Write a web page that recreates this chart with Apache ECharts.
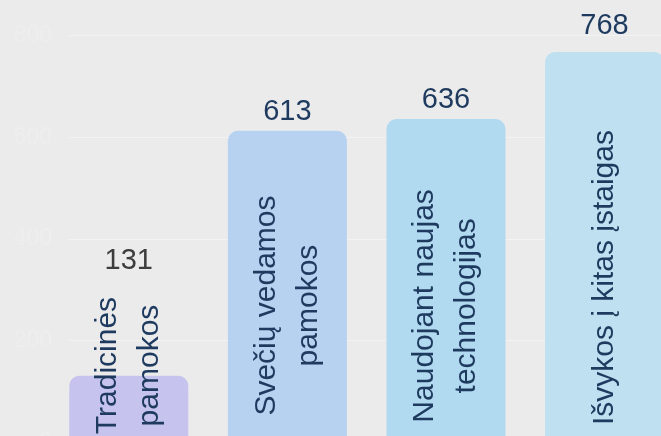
<!DOCTYPE html>
<html>
<head>
<meta charset="utf-8">
<script src="https://cdn.jsdelivr.net/npm/echarts@6/dist/echarts.min.js"></script>
<style>
html,body{margin:0;padding:0;background:#ebebeb;overflow:hidden;}
#chart{width:661px;height:460px;}
</style>
</head>
<body>
<div id="chart"></div>
<script>
// ---- data ----
const categories = ['Tradicinės\npamokos', 'Svečių vedamos\npamokos', 'Naudojant naujas\ntechnologijas', 'Išvykos į kitas įstaigas'];
const values = [131, 613, 636, 768];
const yTicks = [0, 200, 400, 600, 800];

// ---- styles (kept separate from data) ----
const barColors = ['#c6c3ee', '#b7d1f0', '#b1d9ef', '#bfe0f1'];
const valueLabelColors = ['#3d3d3d', '#1e3a5f', '#1e3a5f', '#1e3a5f'];
const catLabelPos = ['-15.3%', '56.1%', '57.8%', '57.8%'];
const valueLabelDist = [100.5, 4.5, 5, 11];

const FONT = '"Liberation Sans", Arial, sans-serif';

const barData = values.map((v, i) => ({
  value: [i, v],
  itemStyle: { color: barColors[i], borderRadius: [10, 10, 0, 0] },
  label: { position: ['50%', catLabelPos[i]] }
}));
const valData = values.map((v, i) => ({
  value: [i, v],
  label: { distance: valueLabelDist[i], color: valueLabelColors[i] }
}));

const chart = echarts.init(document.getElementById('chart'), null, { renderer: 'canvas' });
chart.setOption({
  backgroundColor: '#ebebeb',
  animation: false,
  grid: { left: 69, right: 0, top: 35.7, bottom: 17.7, containLabel: false },
  xAxis: {
    type: 'value', min: -0.377, max: 3.356,
    show: false, splitLine: { show: false }
  },
  yAxis: {
    type: 'value', min: yTicks[0], max: yTicks[yTicks.length - 1], interval: 200,
    axisLine: { show: false }, axisTick: { show: false },
    splitLine: { lineStyle: { color: '#f3f3f3', width: 1 } },
    axisLabel: { color: '#eeeeee', fontSize: 23, fontFamily: FONT, margin: 17 }
  },
  series: [
    {
      type: 'bar', barWidth: 119, barGap: '-100%',
      data: barData,
      label: {
        show: true, rotate: 90,
        formatter: p => categories[p.dataIndex],
        fontFamily: FONT, fontSize: 30, lineHeight: 42,
        color: '#1e3a5f', align: 'center', verticalAlign: 'middle'
      }
    },
    {
      type: 'bar', barWidth: 119, barGap: '-100%',
      data: valData,
      itemStyle: { color: 'rgba(0,0,0,0)' },
      label: {
        show: true, position: 'top',
        formatter: p => String(p.value[1]),
        fontFamily: FONT, fontSize: 29
      }
    }
  ]
});
</script>
</body>
</html>
